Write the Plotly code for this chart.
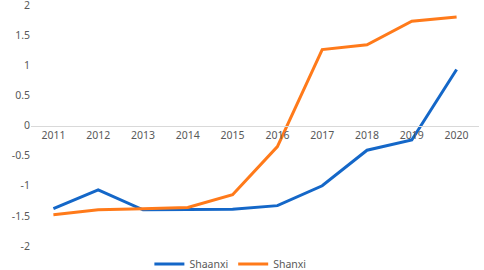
import plotly.graph_objects as go

years = ["2011", "2012", "2013", "2014", "2015", "2016", "2017", "2018", "2019", "2020"]
shaanxi = [-1.38, -1.07, -1.40, -1.39, -1.39, -1.33, -1.00, -0.41, -0.24, 0.93]
shanxi = [-1.48, -1.40, -1.38, -1.36, -1.15, -0.35, 1.26, 1.34, 1.73, 1.80]
y_ticks = [-2, -1.5, -1, -0.5, 0, 0.5, 1, 1.5, 2]

fig = go.Figure()
fig.add_trace(go.Scatter(x=years, y=shaanxi, mode="lines", name="Shaanxi",
                         line=dict(color="#1467C8", width=3)))
fig.add_trace(go.Scatter(x=years, y=shanxi, mode="lines", name="Shanxi",
                         line=dict(color="#FF7A1A", width=3)))

fig.update_layout(
    width=484, height=270,
    margin=dict(l=31, r=5, t=5, b=24, autoexpand=False),
    paper_bgcolor="white", plot_bgcolor="white",
    font=dict(family="Noto Sans", size=11, color="#595959"),
    showlegend=True,
    legend=dict(orientation="h", x=0.476, xref="container", xanchor="center",
                y=0.022, yref="container", yanchor="middle",
                font=dict(size=10.5, color="#595959"),
                itemwidth=30, bgcolor="rgba(0,0,0,0)"),
    xaxis=dict(type="category", range=[-0.5, 9.5], anchor="free", position=0.5,
               showline=True, linecolor="#D9D9D9", linewidth=1, showgrid=False,
               ticks="", tickfont=dict(size=10.5, color="#595959"), zeroline=False,
               automargin=False),
    yaxis=dict(range=[-2, 2.0001], tickvals=y_ticks, ticktext=[f"{v:g}" for v in y_ticks],
               showgrid=False, zeroline=False, showline=False, ticks="",
               ticklabeloverflow="allow",
               tickfont=dict(size=10.5, color="#595959"), automargin=False),
)

fig.write_html("out.html", config={"displayModeBar": False},
               post_script="document.body.style.margin='0';")
